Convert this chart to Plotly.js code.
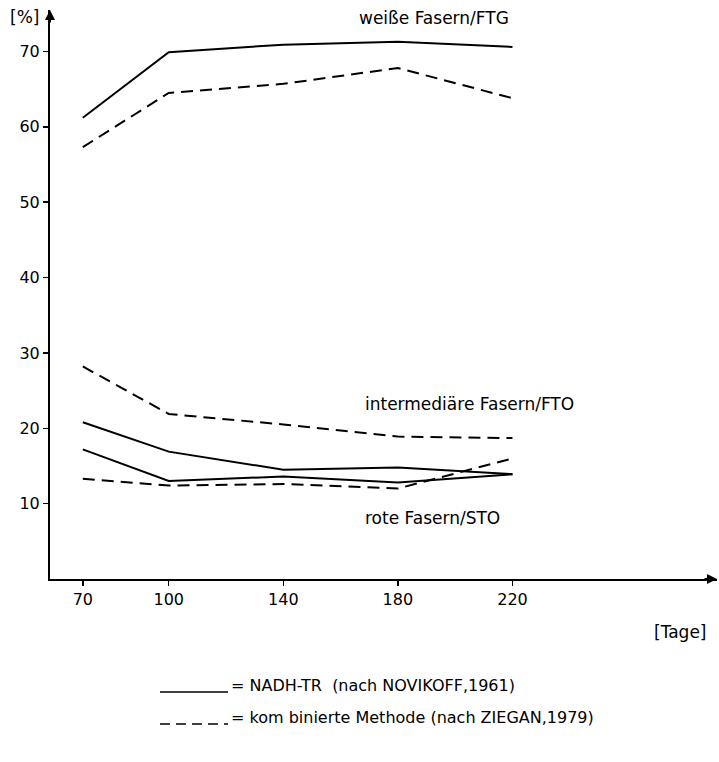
<!DOCTYPE html>
<html>
<head>
<meta charset="utf-8">
<script src="https://cdn.plot.ly/plotly-3.0.1.min.js"></script>
<style>
html,body{margin:0;padding:0;background:#fff;}
#chart{width:719px;height:762px;}
</style>
</head>
<body>
<div id="chart"></div>
<script>
// Days (x values)
const days = [70, 100, 140, 180, 220];
const xTickVals = [70, 100, 140, 180, 220];
const yTickVals = [10, 20, 30, 40, 50, 60, 70];

// NADH-TR (nach NOVIKOFF, 1961) – solid
const nadhWeiss = [61.2, 69.9, 70.9, 71.3, 70.6];
const nadhInter = [20.8, 16.9, 14.5, 14.8, 13.9];
const nadhRot   = [17.2, 13.0, 13.6, 12.8, 13.9];

// kombinierte Methode (nach ZIEGAN, 1979) – dashed
const ziegWeiss = [57.3, 64.5, 65.7, 67.8, 63.8];
const ziegInter = [28.2, 21.9, 20.5, 18.9, 18.7];
const ziegRot   = [13.3, 12.4, 12.6, 12.0, 16.0];

const legendLabels = ["= NADH-TR  (nach NOVIKOFF,1961)", "= kom binierte Methode (nach ZIEGAN,1979)"];
const groupLabels = ["weiße Fasern/FTG", "intermediäre Fasern/FTO", "rote Fasern/STO"];

const FONT = "DejaVu Sans, Liberation Sans, sans-serif";
const W = 719, H = 762;
const M = {l: 50, r: 2, t: 10, b: 183};
const plotW = W - M.l - M.r, plotH = H - M.t - M.b;
const px = x => (x - M.l) / plotW;          // page pixel -> paper x
const py = y => (H - M.b - y) / plotH;      // page pixel -> paper y

const solid = {color: "#000", width: 2, dash: "solid"};
const dashed = {color: "#000", width: 2, dash: "12px,7px"};

function tr(y, line) {
  return {x: days, y: y, type: "scatter", mode: "lines", line: line, showlegend: false, hoverinfo: "skip"};
}

const data = [
  tr(nadhWeiss, solid), tr(nadhInter, solid), tr(nadhRot, solid),
  tr(ziegWeiss, dashed), tr(ziegInter, dashed), tr(ziegRot, dashed)
];

const tf = {family: FONT, size: 16, color: "#000"};
const af = {family: FONT, size: 17, color: "#000"};
const lf = {family: FONT, size: 16, color: "#000"};

function pap(x, y, text, font, anchor) {
  return {x: px(x), y: py(y), xref: "paper", yref: "paper", text: text, showarrow: false,
          font: font, xanchor: anchor || "center", yanchor: "middle"};
}

const annotations = [
  pap(434, 18, groupLabels[0], af),
  pap(469, 404, groupLabels[1], af),
  pap(432, 518, groupLabels[2], af),
  pap(24, 17, "[%]", af),
  pap(680, 632, "[Tage]", af),
  pap(229, 685, legendLabels[0], lf, "left"),
  pap(229, 717, legendLabels[1], lf, "left"),
  // axis arrows
  {x: 1, y: 0, xref: "paper", yref: "paper", ax: -14, ay: 0, showarrow: true, arrowhead: 2, arrowsize: 1, arrowwidth: 2, arrowcolor: "#000", text: ""},
  {x: 0, y: 1, xref: "paper", yref: "paper", ax: 0, ay: 14, showarrow: true, arrowhead: 2, arrowsize: 1, arrowwidth: 2, arrowcolor: "#000", text: ""}
];

const shapes = [
  {type: "line", xref: "paper", yref: "paper", x0: px(160), x1: px(228), y0: py(692), y1: py(692), line: {color: "#000", width: 1.5}},
  {type: "line", xref: "paper", yref: "paper", x0: px(160), x1: px(228), y0: py(724), y1: py(724), line: {color: "#000", width: 1.5, dash: "10px,6px"}}
];

const layout = {
  width: W, height: H,
  margin: M,
  paper_bgcolor: "#fff", plot_bgcolor: "#fff",
  font: tf,
  showlegend: false,
  xaxis: {
    range: [58.55, 291.4], tickvals: xTickVals, ticktext: xTickVals.map(String),
    showgrid: false, zeroline: false, showline: true, linecolor: "#000", linewidth: 2,
    ticks: "outside", ticklen: 5, tickwidth: 1.5, tickcolor: "#000",
    tickfont: tf, fixedrange: true
  },
  yaxis: {
    range: [0, 75.5], tickvals: yTickVals, ticktext: yTickVals.map(String),
    showgrid: false, zeroline: false, showline: true, linecolor: "#000", linewidth: 2,
    ticks: "outside", ticklen: 5, tickwidth: 1.5, tickcolor: "#000",
    tickfont: tf, fixedrange: true
  },
  annotations: annotations,
  shapes: shapes
};

Plotly.newPlot("chart", data, layout, {displayModeBar: false, staticPlot: true});
</script>
</body>
</html>
